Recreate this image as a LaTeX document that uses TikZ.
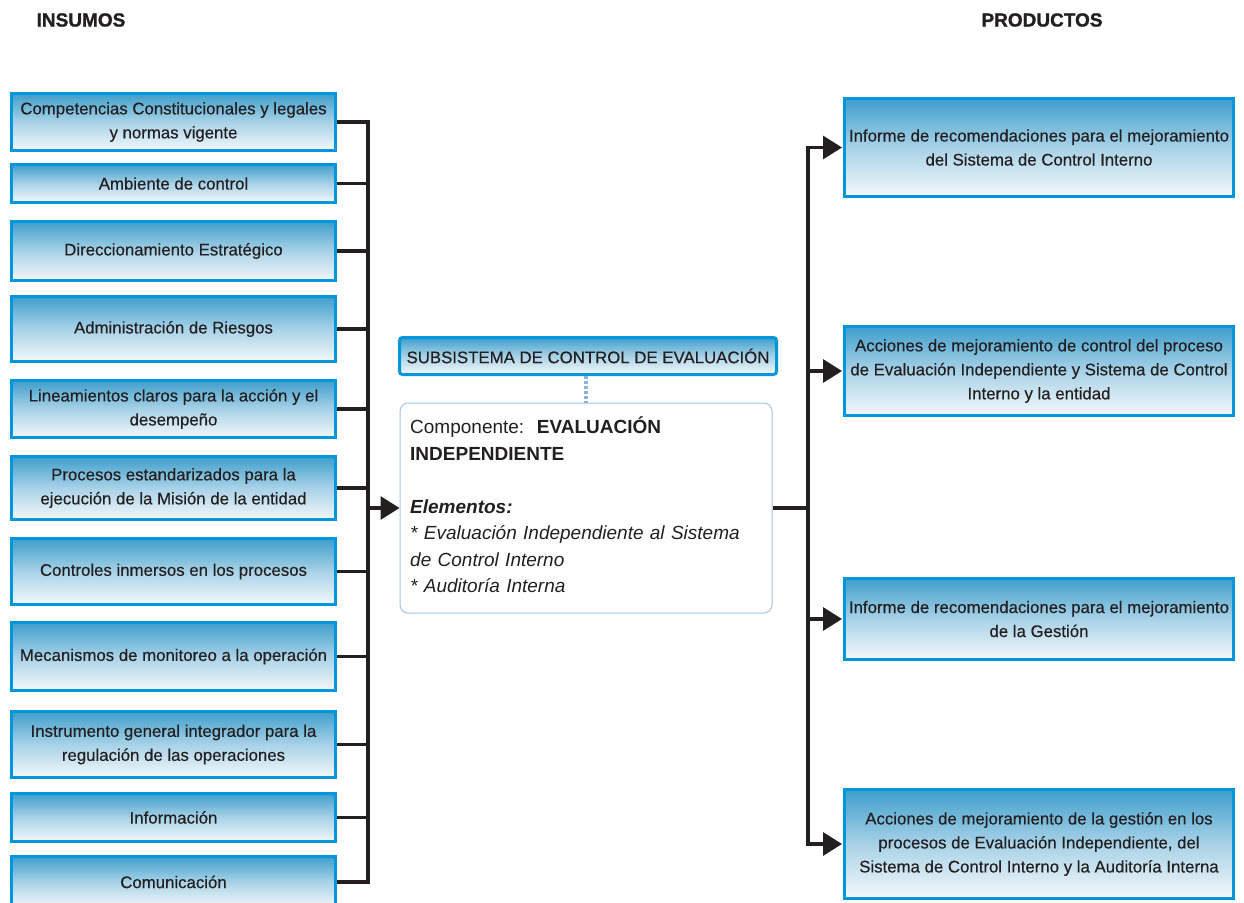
\documentclass[tikz,border=0pt]{standalone}
\usepackage{fontspec}
\setmainfont{Liberation Sans}
\newfontfamily\boxfont{Liberation Sans}[FakeBold=0.35]
\newfontfamily\headfont{Liberation Sans}[UprightFont={* Bold}, FakeBold=1.2]
\usetikzlibrary{arrows.meta}
\definecolor{bordblue}{RGB}{0,150,219}
\definecolor{gtop}{RGB}{62,158,204}
\definecolor{gmid}{RGB}{168,210,231}
\definecolor{gbot}{RGB}{244,248,251}
\definecolor{lineblk}{RGB}{35,31,32}
\definecolor{softblue}{RGB}{165,195,232}
\definecolor{dotblue}{RGB}{140,178,222}
\begin{document}
\begin{tikzpicture}[x=1pt,y=-1pt,
  inbox/.style={draw=bordblue, line width=3pt, top color=gtop, bottom color=gbot, middle color=gmid,
    minimum width=324pt, align=center, inner sep=0pt, font=\boxfont\fontsize{16.8}{24}\selectfont, text=lineblk},
  outbox/.style={inbox, minimum width=389pt},
  heading/.style={font=\headfont\fontsize{19}{22}\selectfont, text=lineblk, inner sep=0pt},
  conn/.style={draw=lineblk, line width=3.2pt},
  busline/.style={conn, line cap=rect},
  arr/.style={conn, -{Triangle[length=19pt,width=23pt]}},
]
\useasboundingbox (0,0) rectangle (1244,902);

\node[heading] (ins) at (81,20) {INSUMOS};
\node[heading] (prod) at (1042,20) {PRODUCTOS};

% left inputs
\node[inbox, minimum height=57pt] (L1) at (173.5,122) {Competencias Constitucionales y legales\\y normas vigente};
\node[inbox, minimum height=38pt] (L2) at (173.5,183.5) {Ambiente de control};
\node[inbox, minimum height=59pt] (L3) at (173.5,251) {Direccionamiento Estratégico};
\node[inbox, minimum height=65pt] (L4) at (173.5,329) {Administración de Riesgos};
\node[inbox, minimum height=57pt] (L5) at (173.5,409) {Lineamientos claros para la acción y el\\desempeño};
\node[inbox, minimum height=63pt] (L6) at (173.5,488) {Procesos estandarizados para la\\ejecución de la Misión de la entidad};
\node[inbox, minimum height=66pt] (L7) at (173.5,571.5) {Controles inmersos en los procesos};
\node[inbox, minimum height=68pt] (L8) at (173.5,656.5) {Mecanismos de monitoreo a la operación};
\node[inbox, minimum height=66pt] (L9) at (173.5,744.5) {Instrumento general integrador para la\\regulación de las operaciones};
\node[inbox, minimum height=48pt] (L10) at (173.5,817.5) {Información};
\node[inbox, minimum height=51pt] (L11) at (173.5,882) {Comunicación};

% center
\node[draw=bordblue, line width=3pt, rounded corners=3pt, top color=gtop, bottom color=gbot, middle color=gmid,
  minimum width=377pt, minimum height=37pt, inner sep=0pt, font=\boxfont\fontsize{16.8}{20}\selectfont, text=lineblk]
  (title) at (588,356) {SUBSISTEMA DE CONTROL DE EVALUACIÓN};
\node[draw=softblue, line width=1pt, rounded corners=8pt, fill=white, minimum width=372pt, minimum height=210pt]
  (comp) at (586,508) {};
\node[anchor=north west, inner sep=0pt, text width=360pt, align=left, font=\fontsize{19}{26.5}\selectfont, text=lineblk]
  (ctext) at (410,415) {\strut Componente:\ \ \textbf{EVALUACIÓN}\\\textbf{INDEPENDIENTE}\\[26.5pt]\textbf{\textit{Elementos:}}\\\textit{* Evaluación Independiente al Sistema}\\\textit{de Control Interno}\\\textit{* Auditoría Interna}};
\draw[dotblue, line width=4pt, dash pattern=on 3pt off 2pt] (comp.north |- title.south) -- (comp.north);

% right outputs
\node[outbox, minimum height=98pt] (R1) at (1039,147.5) {Informe de recomendaciones para el mejoramiento\\del Sistema de Control Interno};
\node[outbox, minimum height=89pt] (R2) at (1039,371) {Acciones de mejoramiento de control del proceso\\de Evaluación Independiente y Sistema de Control\\Interno y la entidad};
\node[outbox, minimum height=81pt] (R3) at (1039,619) {Informe de recomendaciones para el mejoramiento\\de la Gestión};
\node[outbox, minimum height=109pt] (R4) at (1039,844) {Acciones de mejoramiento de la gestión en los\\procesos de Evaluación Independiente, del\\Sistema de Control Interno y la Auditoría Interna};

% connectors
\coordinate (busL) at (368,0);
\coordinate (busR) at (808,0);
\draw[conn, line join=miter] (L1.east) -- (L1.east -| busL) -- (L11.east -| busL) -- (L11.east);
\foreach \n in {L2,L3,L4,L5,L6,L7,L8,L9,L10} \draw[conn] (\n.east) -- (\n.east -| busL);
\draw[arr] (comp.west -| busL) -- (comp.west);
\draw[conn] (comp.east) -- (comp.east -| busR);
\draw[busline] (R1.west -| busR) -- (R4.west -| busR);
\foreach \n in {R1,R2,R3,R4} \draw[arr, shorten >=1pt] (\n.west -| busR) -- (\n.west);
\end{tikzpicture}
\end{document}
